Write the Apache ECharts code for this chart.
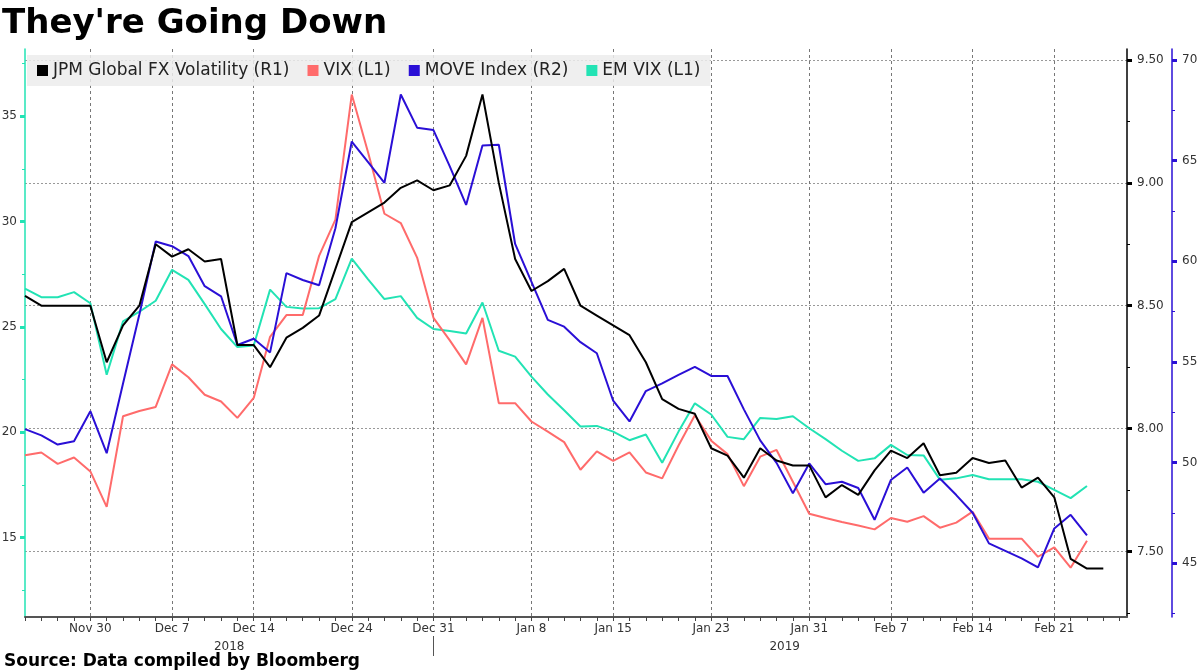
<!DOCTYPE html>
<html><head><meta charset="utf-8">
<script src="https://cdn.jsdelivr.net/npm/echarts@6/dist/echarts.min.js"></script>
<style>html,body{margin:0;padding:0;background:#fff}#c{width:1198px;height:672px}</style>
</head><body><div id="c"></div>
<script>
// Trading days (weekdays) 26 Nov 2018 – 27 Feb 2019
const dates = [
 '2018-11-26','2018-11-27','2018-11-28','2018-11-29','2018-11-30',
 '2018-12-03','2018-12-04','2018-12-05','2018-12-06','2018-12-07',
 '2018-12-10','2018-12-11','2018-12-12','2018-12-13','2018-12-14',
 '2018-12-17','2018-12-18','2018-12-19','2018-12-20','2018-12-21',
 '2018-12-24','2018-12-25','2018-12-26','2018-12-27','2018-12-28',
 '2018-12-31','2019-01-01','2019-01-02','2019-01-03','2019-01-04',
 '2019-01-07','2019-01-08','2019-01-09','2019-01-10','2019-01-11',
 '2019-01-14','2019-01-15','2019-01-16','2019-01-17','2019-01-18',
 '2019-01-21','2019-01-22','2019-01-23','2019-01-24','2019-01-25',
 '2019-01-28','2019-01-29','2019-01-30','2019-01-31','2019-02-01',
 '2019-02-04','2019-02-05','2019-02-06','2019-02-07','2019-02-08',
 '2019-02-11','2019-02-12','2019-02-13','2019-02-14','2019-02-15',
 '2019-02-18','2019-02-19','2019-02-20','2019-02-21','2019-02-22',
 '2019-02-25','2019-02-26','2019-02-27'
];
const tickDates  = ['2018-11-30','2018-12-07','2018-12-14','2018-12-24','2018-12-31','2019-01-08',
                    '2019-01-15','2019-01-23','2019-01-31','2019-02-07','2019-02-14','2019-02-21'];
const tickLabels = ['Nov 30','Dec 7','Dec 14','Dec 24','Dec 31','Jan 8',
                    'Jan 15','Jan 23','Jan 31','Feb 7','Feb 14','Feb 21'];
const years = ['2018','2019'];

const jpmFxVol = [8.54,8.50,8.50,8.50,8.50,8.27,8.42,8.50,8.75,8.70,
 8.73,8.68,8.69,8.34,8.34,8.25,8.37,8.41,8.46,8.65,
 8.84,8.88,8.92,8.98,9.01,8.97,8.99,9.11,9.36,9.00,
 8.69,8.56,8.60,8.65,8.50,8.46,8.42,8.38,8.27,8.12,
 8.08,8.06,7.92,7.89,7.80,7.92,7.87,7.85,7.85,7.72,
 7.77,7.73,7.83,7.91,7.88,7.94,7.81,7.82,7.88,7.86,
 7.87,7.76,7.80,7.72,7.47,7.43,7.43,null];
const vix = [18.91,19.04,18.50,18.80,18.14,16.46,20.76,21.01,21.20,23.22,
 22.61,21.78,21.46,20.68,21.63,24.53,25.56,25.56,28.37,30.09,
 36.03,33.28,30.37,29.93,28.29,25.43,24.36,23.22,25.43,21.38,
 21.38,20.51,20.03,19.53,18.22,19.09,18.64,19.04,18.09,17.81,
 19.37,20.81,19.60,18.96,17.44,18.84,19.16,17.65,16.13,15.93,
 15.74,15.57,15.39,15.93,15.75,16.02,15.47,15.71,16.23,14.95,
 14.95,14.95,14.09,14.54,13.57,14.85,null,null];
const moveIndex = [51.66,51.35,50.89,51.06,52.55,50.46,53.93,57.35,60.98,60.75,
 60.26,58.76,58.26,55.84,56.15,55.47,59.41,59.07,58.81,61.64,
 65.95,64.93,63.90,68.29,66.64,66.52,64.72,62.80,65.75,65.79,
 60.86,58.98,57.09,56.75,55.98,55.43,53.07,52.04,53.55,53.93,
 54.35,54.75,54.30,54.30,52.64,51.10,49.98,48.47,49.95,48.92,
 49.04,48.73,47.15,49.13,49.75,48.50,49.20,48.38,47.50,45.98,
 45.61,45.23,44.79,46.72,47.40,46.38,null,null];
const emVix = [26.82,26.41,26.41,26.65,26.12,22.73,25.26,25.72,26.24,27.71,
 27.23,26.08,24.90,24.04,24.12,26.77,25.95,25.87,25.89,26.32,
 28.24,27.26,26.32,26.46,25.43,24.90,24.81,24.69,26.16,23.87,
 23.59,22.64,21.79,21.04,20.27,20.30,20.03,19.62,19.89,18.55,
 20.03,21.37,20.84,19.78,19.67,20.68,20.63,20.76,20.19,19.67,
 19.12,18.64,18.76,19.40,18.92,18.90,17.75,17.81,17.97,17.77,
 17.77,17.77,17.65,17.26,16.87,17.45,null,null];

const leftTicks  = [15,20,25,30,35];
const leftMinor  = [12.5,17.5,22.5,27.5,32.5,37.5];
const r1Ticks    = [7.5,8.0,8.5,9.0,9.5];
const r1Minor    = [7.25,7.75,8.25,8.75,9.25];
const r2Ticks    = [45,50,55,60,65,70];
const r2Minor    = [42.5,47.5,52.5,57.5,62.5,67.5];

const C_JPM='#000000', C_VIX='#ff6b6b', C_MOVE='#2a0fd6', C_EM='#22e3b4';
const FONT='DejaVu Sans';

const idxOf = d => dates.indexOf(d);
const tickIdx = tickDates.map(idxOf);
const labelByIdx = {}; tickIdx.forEach((k,j)=>{labelByIdx[k]=tickLabels[j];});
const yearSpan = years.map(y => { const ii = dates.map((d,i)=>d.startsWith(y)?i:-1).filter(i=>i>=0); return [ii[0], ii[ii.length-1]]; });
const yearMid = yearSpan.map(s => (s[0]+s[1])/2);
const yearSep = [yearSpan[0][1]];
const yearByMid = {}; yearMid.forEach((m,j)=>{yearByMid[m]=years[j];});
const xMax = dates.length - 1 + 0.45;
const pts = arr => arr.map((v,i)=>[i,v]).filter(p=>p[1]!=null);

const baseX = {type:'value', min:0, max:xMax, gridIndex:0, position:'bottom'};
const baseLabel = {fontFamily:FONT, fontSize:12, color:'#333'};
const L1 = {min:11.23, max:38.19}, R1 = {min:7.233, max:9.545}, R2 = {min:42.32, max:70.55};

function yAx(pos, off, range, color, ticks, isMajor, labelOpt, split) {
  return Object.assign({type:'value', position:pos, offset:off}, range, {
    axisLine:{show:isMajor, onZero:false, lineStyle:{color:color, width:1.5}},
    axisTick:{show:true, inside:false, customValues:ticks, length:isMajor?5:3, lineStyle:{color:color, width:isMajor?3:1}},
    axisLabel: isMajor ? Object.assign({customValues:ticks}, baseLabel, labelOpt) : {show:false},
    splitLine: split ? {show:true, lineStyle:{color:'#999', width:1, type:[2,2]}} : {show:false}
  });
}

const option = {
  animation:false,
  backgroundColor:'#ffffff',
  title:[
    {text:"They're Going Down", left:2, top:7, padding:0,
     textStyle:{fontFamily:FONT, fontWeight:'bold', fontSize:34, color:'#000'}},
    {text:'Source: Data compiled by Bloomberg', left:4, top:653, padding:0,
     textStyle:{fontFamily:FONT, fontWeight:'bold', fontSize:17, color:'#000'}}
  ],
  legend:{
    data:['JPM Global FX Volatility (R1)','VIX (L1)','MOVE Index (R2)','EM VIX (L1)'],
    left:27, top:55, icon:'rect', itemWidth:11, itemHeight:11, itemGap:18,
    padding:[7,10,7,10], backgroundColor:'rgba(236,236,236,0.85)', z:1,
    textStyle:{fontFamily:FONT, fontSize:17, color:'#222'}
  },
  grid:{left:25, right:71, top:49, bottom:55, containLabel:false, outerBoundsMode:'none'},
  xAxis:[
    Object.assign({}, baseX, {
      axisLine:{show:true, onZero:false, lineStyle:{color:'#555', width:2}},
      axisTick:{show:true, customValues:dates.map((d,i)=>i), length:4, lineStyle:{color:'#444', width:1}},
      axisLabel:Object.assign({customValues:tickIdx, margin:6, formatter:v=>labelByIdx[v]||''}, baseLabel),
      splitLine:{show:false}
    }),
    Object.assign({}, baseX, {
      axisLine:{show:false, onZero:false},
      axisTick:{show:false, customValues:tickIdx},
      axisLabel:{show:false},
      splitLine:{show:true, lineStyle:{color:'#777', width:1, type:[3,3]}}
    }),
    Object.assign({}, baseX, {
      offset:19,
      axisLine:{show:false, onZero:false},
      axisTick:{show:true, customValues:yearSep, length:20, lineStyle:{color:'#555', width:1}},
      axisLabel:Object.assign({customValues:yearMid, margin:5, formatter:v=>yearByMid[v]||''}, baseLabel),
      splitLine:{show:false}
    })
  ],
  yAxis:[
    yAx('left', 0, L1, C_EM, leftTicks, true, {margin:8}, false),
    yAx('left', 0, L1, C_EM, leftMinor, false, null, false),
    yAx('right', 0, R1, '#000', r1Ticks, true, {margin:10, formatter:v=>v.toFixed(2)}, true),
    yAx('right', 0, R1, '#000', r1Minor, false, null, false),
    yAx('right', 45, R2, C_MOVE, r2Ticks, true, {margin:10}, false),
    yAx('right', 45, R2, C_MOVE, r2Minor, false, null, false)
  ],
  series:[
    {name:'EM VIX (L1)', type:'line', xAxisIndex:0, yAxisIndex:0, data:pts(emVix),
     symbol:'none', lineStyle:{color:C_EM, width:2}, itemStyle:{color:C_EM}},
    {name:'VIX (L1)', type:'line', xAxisIndex:0, yAxisIndex:0, data:pts(vix),
     symbol:'none', lineStyle:{color:C_VIX, width:2}, itemStyle:{color:C_VIX}},
    {name:'MOVE Index (R2)', type:'line', xAxisIndex:0, yAxisIndex:4, data:pts(moveIndex),
     symbol:'none', lineStyle:{color:C_MOVE, width:2}, itemStyle:{color:C_MOVE}},
    {name:'JPM Global FX Volatility (R1)', type:'line', xAxisIndex:0, yAxisIndex:2, data:pts(jpmFxVol),
     symbol:'none', lineStyle:{color:C_JPM, width:2}, itemStyle:{color:C_JPM}}
  ]
};
const chart = echarts.init(document.getElementById('c'), null, {renderer:'canvas'});
chart.setOption(option);
</script>
</body></html>
